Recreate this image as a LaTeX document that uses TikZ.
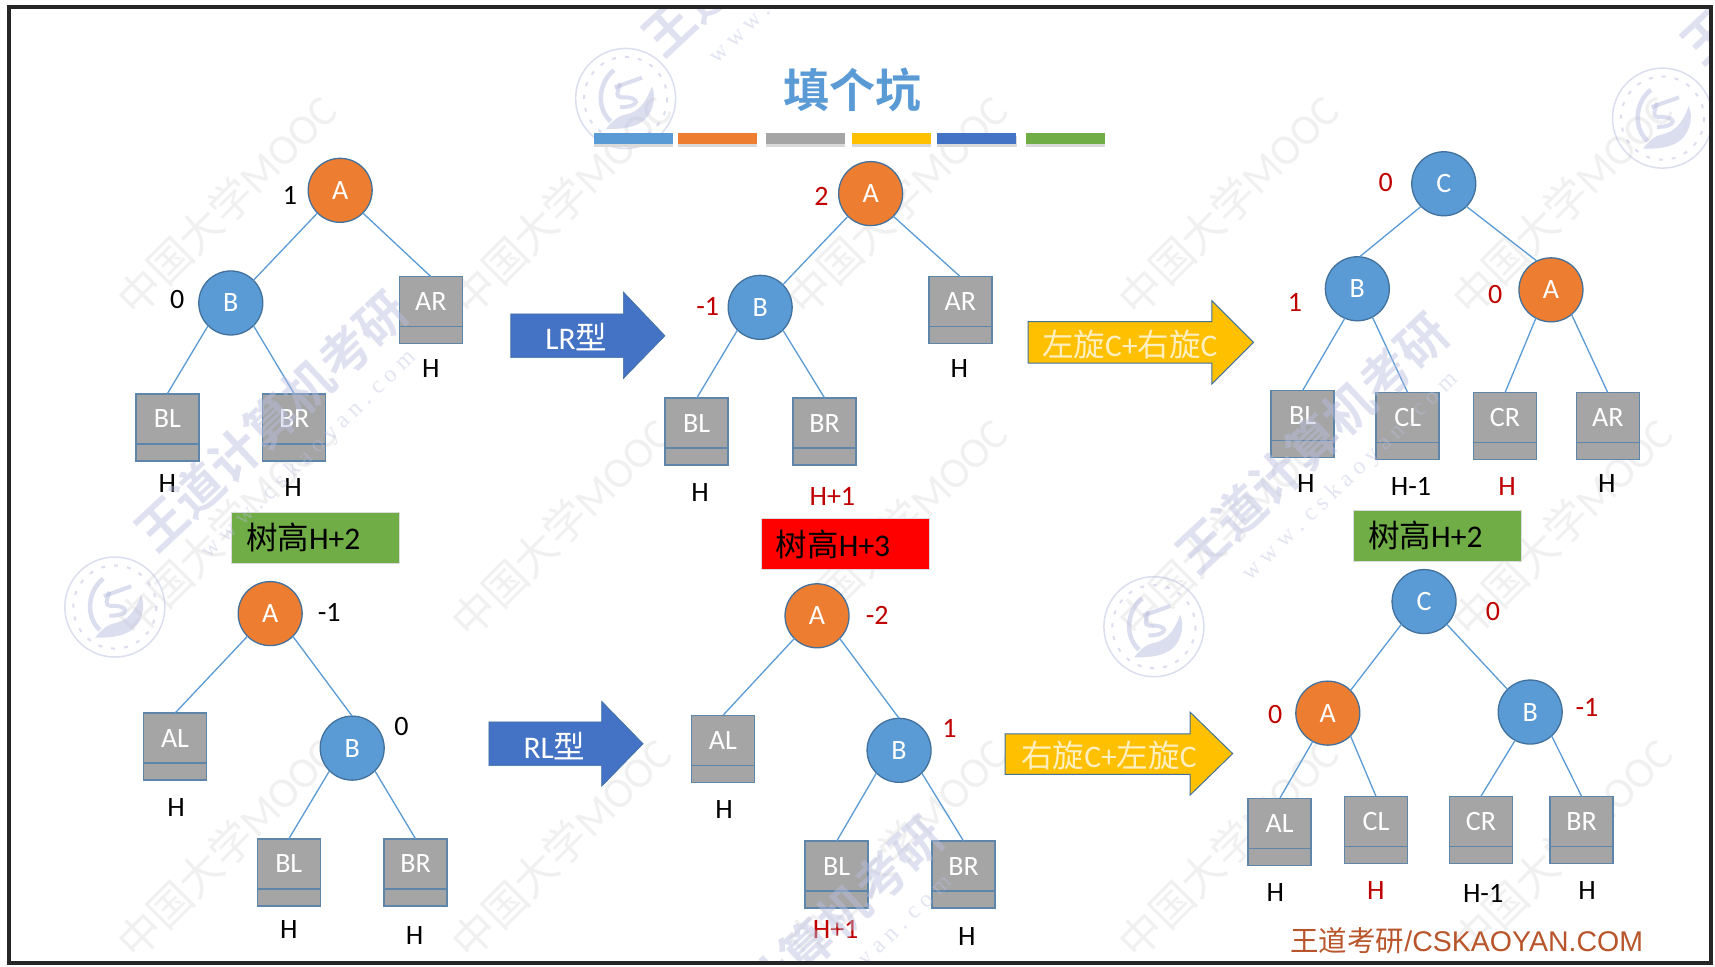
\documentclass[tikz,border=0pt]{standalone}
\usepackage{fontspec}
\setmainfont{Carlito}
\newfontfamily\cjk{Noto Sans CJK SC}
\newfontfamily\cjkb{Noto Sans CJK SC Bold}
\newfontfamily\arialf{Liberation Sans}
\newfontfamily\serifw{Liberation Serif}
\definecolor{cblue}{HTML}{5B9BD5}
\definecolor{corange}{HTML}{ED7D31}
\definecolor{cgray}{HTML}{A5A5A5}
\definecolor{cyellow}{HTML}{FFC000}
\definecolor{cdblue}{HTML}{4472C4}
\definecolor{cgreen}{HTML}{70AD47}
\definecolor{cedge}{HTML}{41719C}
\definecolor{credt}{HTML}{C00000}
\definecolor{cfoot}{HTML}{B8552B}
\definecolor{wmgray}{HTML}{D8D8D8}
\definecolor{wmblue}{HTML}{B9BEDF}
\tikzset{
  x=1.09375pt,y=-1.09375pt,
  circ/.style={circle,draw=cedge,line width=1.3pt,minimum size=64pt,inner sep=0pt,outer sep=0pt,text=white,font=\fontsize{28}{28}\selectfont},
  bluec/.style={circ,fill=cblue},
  orangec/.style={circ,fill=corange},
  leafbox/.style={rectangle,anchor=north,fill=cgray,draw=cedge!85!white,line width=1.5pt,inner sep=0pt,outer sep=0pt,text width=63pt,align=center,text height=34pt,text depth=33pt,text=white,font=\fontsize{28}{28}\selectfont},
  edge/.style={draw=cblue,line width=1.3pt},
  lab/.style={inner sep=0pt,text=black,font=\fontsize{28}{28}\selectfont},
  rlab/.style={lab,text=credt},
  hbox/.style={rectangle,inner xsep=15pt,inner ysep=0pt,outer sep=0pt,minimum height=51pt,text width=138pt,align=left,draw=white!60!cgray,line width=.5pt,text=black,font=\fontsize{31.5}{31.5}\selectfont},
  arrowtext/.style={inner sep=0pt,font=\fontsize{31.5}{31.5}\selectfont},
  bar/.style={rectangle,anchor=north west,inner sep=0pt,outer sep=0pt,minimum width=79pt,minimum height=11pt},
  wmooc/.style={rotate=45,inner sep=0pt,opacity=.36,text=wmgray,font=\fontsize{43}{43}\selectfont},
  wwang/.style={rotate=43,inner sep=0pt,opacity=.45,text=wmblue,font=\cjkb\fontsize{50}{50}\selectfont},
  wwww/.style={rotate=44,inner sep=0pt,opacity=.4,text=wmblue,font=\serifw\fontsize{24}{24}\selectfont},
}
\newcommand{\leaf}[4]{\node[leafbox] (#1) at (#2,#3) {#4};
  \draw[draw=cedge!85!white,line width=1.5pt] ([yshift=-50pt]#1.north west) -- ([yshift=-50pt]#1.north east);}
\newcommand{\seal}[3]{\begin{scope}[opacity=.5,draw=wmblue,fill=wmblue,shift={(#2,#3)}]
  \node[circle,draw=wmblue,line width=1.5pt,minimum size=100pt,inner sep=0pt] (#1) at (0,0) {};
  \draw[line width=2pt,dash pattern=on 4pt off 9pt] (0,0) circle[radius=38];
  \draw[line width=4.5pt] (-10.6,-25.8) .. controls (-24,-16) and (-28,8) .. (-13.6,21);
  \fill (-18,28) .. controls (-12,20) and (-6,16) .. (-1,15) .. controls (10,13) and (18,6) .. (24,-11) .. controls (29,0) and (24,16) .. (14,22) .. controls (4,28) and (-8,28) .. cycle;
  \draw[line width=4pt] (-10,-10) -- (15,-19);
  \draw[line width=4pt] (-5,-14) .. controls (-8,-4) and (-9,-2) .. (-4,-1) .. controls (14,-2) and (14,8) .. (-5,8);
  \end{scope}}
\begin{document}
\begin{tikzpicture}
\useasboundingbox (0,0) rectangle (1568,883.2);
\fill[white] (0,0) rectangle (1568,883.2);

% faint watermark under the drawing
\begin{scope}
\clip (8,7) rectangle (1565,881);
\foreach \i/\x/\y in {1/207/187,2/513/187,3/820/187,4/1123/187,5/1428/187,
                      6/513/482,7/820/482,8/1123/482,9/1428/482,15/207/482,
                      10/207/775,11/513/775,12/820/775,13/1123/775,14/1428/775}{
  \node[wmooc] (wm\i) at (\x,\y) {{\cjk 中国大学}MOOC};
}
\seal{s1}{572}{90}
\seal{s2}{1520}{108}
\seal{s3}{105}{555}
\seal{s4}{1055}{573}
\end{scope}

% title and bars
\node[inner sep=0pt,text=cblue,font=\cjkb\fontsize{46}{46}\selectfont] (title) at (779,82) {填个坑};
\foreach \n/\x/\c in {b1/543/cblue,b2/620/corange,b3/700/cgray,b4/779/cyellow,b5/857/cdblue,b6/938/cgreen}{
  \fill[black!15] (\x,124) rectangle (\x+72.5,134);
  \node[bar,fill=\c] (\n) at (\x,122) {};
}

% tree 1
\node[orangec] (a1) at (311,174) {A};
\node[bluec] (b1n) at (211,277) {B};
\leaf{ar1}{394}{253}{AR}
\leaf{bl1}{153}{360}{BL}
\leaf{br1}{269}{360}{BR}
\draw[edge] (a1.-135) -- (b1n.45);
\draw[edge] (a1.-45) -- (ar1.north);
\draw[edge] (b1n.-135) -- (bl1.north);
\draw[edge] (b1n.-45) -- (br1.north);
\node[lab] (n1a) at (265,179) {1};
\node[lab] (n1b) at (162,274) {0};
\node[lab] (h1a) at (394,337) {H};
\node[lab] (h1b) at (153,442) {H};
\node[lab] (h1c) at (268,446) {H};
\node[hbox,fill=cgreen] (t1) at (288,491.5) {{\cjk 树高}H+2};

% tree 2
\node[orangec] (a2) at (796,177) {A};
\node[bluec] (b2n) at (695,281) {B};
\leaf{ar2}{878}{253}{AR}
\leaf{bl2}{637}{364}{BL}
\leaf{br2}{754}{364}{BR}
\draw[edge] (a2.-135) -- (b2n.45);
\draw[edge] (a2.-45) -- (ar2.north);
\draw[edge] (b2n.-135) -- (bl2.north);
\draw[edge] (b2n.-45) -- (br2.north);
\node[rlab] (n2a) at (751,180) {2};
\node[rlab] (n2b) at (647,280) {-1};
\node[lab] (h2a) at (877,337) {H};
\node[lab] (h2b) at (640,450) {H};
\node[rlab] (h2c) at (761,454) {H+1};
\node[hbox,fill=red] (t2) at (772.5,497.5) {{\cjk 树高}H+3};

% tree 3
\node[bluec] (c3) at (1320,168) {C};
\node[bluec] (b3n) at (1241,264) {B};
\node[orangec] (a3) at (1418,265) {A};
\leaf{bl3}{1191}{357}{BL}
\leaf{cl3}{1287}{359}{CL}
\leaf{cr3}{1376}{359}{CR}
\leaf{ar3}{1470}{359}{AR}
\draw[edge] (c3.-135) -- (b3n.86);
\draw[edge] (c3.-45) -- (a3.116);
\draw[edge] (b3n.-113) -- (bl3.north);
\draw[edge] (b3n.-62) -- (cl3.north);
\draw[edge] (a3.-118) -- (cr3.north);
\draw[edge] (a3.-50) -- (ar3.north);
\node[rlab] (n3a) at (1267,167) {0};
\node[rlab] (n3b) at (1184,277) {1};
\node[rlab] (n3c) at (1367,269) {0};
\node[lab] (h3a) at (1194,442) {H};
\node[lab] (h3b) at (1290,445) {H-1};
\node[rlab] (h3c) at (1378,445) {H};
\node[lab] (h3d) at (1469,442) {H};
\node[hbox,fill=cgreen] (t3) at (1314,489.5) {{\cjk 树高}H+2};

% tree 4
\node[orangec] (a4) at (247,561) {A};
\node[bluec] (b4n) at (322,684) {B};
\leaf{al4}{160}{652}{AL}
\leaf{bl4}{264}{767}{BL}
\leaf{br4}{380}{767}{BR}
\draw[edge] (a4.-135) -- (al4.north);
\draw[edge] (a4.-45) -- (b4n.north);
\draw[edge] (b4n.-135) -- (bl4.north);
\draw[edge] (b4n.-45) -- (br4.north);
\node[lab] (n4a) at (301,560) {-1};
\node[lab] (n4b) at (367,664) {0};
\node[lab] (h4a) at (161,738) {H};
\node[lab] (h4b) at (264,850) {H};
\node[lab] (h4c) at (379,855) {H};

% tree 5
\node[orangec] (a5) at (747,563) {A};
\node[bluec] (b5n) at (822,686) {B};
\leaf{al5}{661}{654}{AL}
\leaf{bl5}{765}{769}{BL}
\leaf{br5}{881}{769}{BR}
\draw[edge] (a5.-135) -- (al5.north);
\draw[edge] (a5.-45) -- (b5n.north);
\draw[edge] (b5n.-135) -- (bl5.north);
\draw[edge] (b5n.-45) -- (br5.north);
\node[rlab] (n5a) at (802,563) {-2};
\node[rlab] (n5b) at (868,666) {1};
\node[lab] (h5a) at (662,740) {H};
\node[rlab] (h5b) at (764,850) {H+1};
\node[lab] (h5c) at (884,856) {H};

% tree 6
\node[bluec] (c6) at (1302,550) {C};
\node[orangec] (a6) at (1214,652) {A};
\node[bluec] (b6n) at (1399,651) {B};
\leaf{al6}{1170}{730}{AL}
\leaf{cl6}{1258}{728}{CL}
\leaf{cr6}{1354}{728}{CR}
\leaf{br6}{1446}{728}{BR}
\draw[edge] (c6.-135) -- (a6.45);
\draw[edge] (c6.-45) -- (b6n.135);
\draw[edge] (a6.-118) -- (al6.north);
\draw[edge] (a6.-45) -- (cl6.north);
\draw[edge] (b6n.-118) -- (cr6.north);
\draw[edge] (b6n.-48) -- (br6.north);
\node[rlab] (n6a) at (1365,559) {0};
\node[rlab] (n6b) at (1166,653) {0};
\node[rlab] (n6c) at (1451,647) {-1};
\node[lab] (h6a) at (1166,816) {H};
\node[rlab] (h6b) at (1258,814) {H};
\node[lab] (h6c) at (1356,817) {H-1};
\node[lab] (h6d) at (1451,814) {H};

% block arrows
\draw[fill=cdblue,draw=cedge,line width=.6pt] (467,287) -- (570,287) -- (570,267) -- (608,307) -- (570,346) -- (570,327) -- (467,327) -- cycle;
\node[arrowtext,text=white] (lr) at (527,308) {LR{\cjk 型}};
\draw[fill=cdblue,draw=cedge,line width=.6pt] (447,660) -- (550,660) -- (550,641) -- (588,680) -- (550,719) -- (550,700) -- (447,700) -- cycle;
\node[arrowtext,text=white] (rl) at (507,682) {RL{\cjk 型}};
\draw[fill=cyellow,draw=cedge,line width=1pt] (940,294) -- (1108,294) -- (1108,275) -- (1146,313) -- (1108,351) -- (1108,332) -- (940,332) -- cycle;
\node[arrowtext,text=white!75!cyellow] (ly) at (1033,315) {{\cjk 左旋}C+{\cjk 右旋}C};
\draw[fill=cyellow,draw=cedge,line width=1pt] (919,671) -- (1088,671) -- (1088,651) -- (1127,689) -- (1088,727) -- (1088,708) -- (919,708) -- cycle;
\node[arrowtext,text=white!75!cyellow] (ry) at (1014,691) {{\cjk 右旋}C+{\cjk 左旋}C};

% footer
\node[inner sep=0pt,text=cfoot,font=\arialf\fontsize{28.5}{28.5}\selectfont] (foot) at (1341,860) {{\cjk 王道考研}/CSKAOYAN.COM};

% strong watermark over the drawing
\begin{scope}
\clip (8,7) rectangle (1565,881);
\node[wwang] (ww1) at (248,385) {王道计算机考研};
\node[wwang] (ww2) at (1200,405) {王道计算机考研};
\node[wwang] (ww3) at (738,865) {王道计算机考研};
\node[wwang] (ww4) at (712,-67) {王道计算机考研};
\node[wwang] (ww5) at (1662,-60) {王道计算机考研};
\node[wwww] (wu1) at (283,416) {w w w . c s k a o y a n . c o m};
\node[wwww] (wu2) at (1235,436) {w w w . c s k a o y a n . c o m};
\node[wwww] (wu3) at (773,896) {w w w . c s k a o y a n . c o m};
\node[wwww] (wu4) at (747,-36) {w w w . c s k a o y a n . c o m};
\end{scope}

% frame
\node[rectangle,draw=black!85,line width=3.5pt,inner sep=0pt,outer sep=0pt,minimum width=1702pt,minimum height=956pt] (frame) at (786.3,443.4) {};
\end{tikzpicture}
\end{document}
